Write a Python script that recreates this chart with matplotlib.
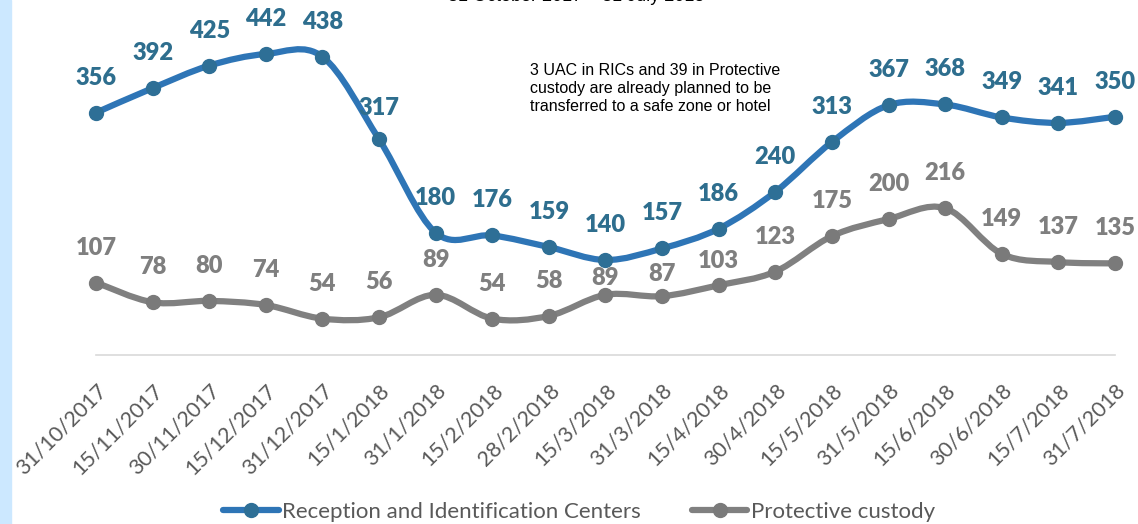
import matplotlib.pyplot as plt
from matplotlib.path import Path
from matplotlib.patches import PathPatch
from matplotlib.lines import Line2D

dates = ["31/10/2017", "15/11/2017", "30/11/2017", "15/12/2017", "31/12/2017",
         "15/1/2018", "31/1/2018", "15/2/2018", "28/2/2018", "15/3/2018",
         "31/3/2018", "15/4/2018", "30/4/2018", "15/5/2018", "31/5/2018",
         "15/6/2018", "30/6/2018", "15/7/2018", "31/7/2018"]
ric = [356, 392, 425, 442, 438, 317, 180, 176, 159, 140, 157, 186, 240, 313,
       367, 368, 349, 341, 350]
custody = [107, 78, 80, 74, 54, 56, 89, 54, 58, 89, 87, 103, 123, 175, 200,
           216, 149, 137, 135]

# label offsets above the point (pixels)
ric_off = [35] * len(ric)
ric_off[5] = 31
cus_off = [35] * len(custody)
cus_off[9] = 17
cus_off[10] = 22
cus_off[11] = 24

BLUE, BLUE_M, BLUE_T = "#2e75b6", "#2e6f96", "#2e6e8e"
GRAY, GRAY_M, GRAY_T = "#808080", "#7a7a7a", "#7f7f7f"


def smooth_path(xs, ys):
    # Excel-like smoothed line: cubic Bezier through every point
    pts = list(zip(xs, ys))
    n = len(pts)
    verts = [pts[0]]
    codes = [Path.MOVETO]
    for i in range(n - 1):
        p0 = pts[max(i - 1, 0)]
        p1 = pts[i]
        p2 = pts[i + 1]
        p3 = pts[min(i + 2, n - 1)]
        c1 = (p1[0] + (p2[0] - p0[0]) / 6, p1[1] + (p2[1] - p0[1]) / 6)
        c2 = (p2[0] - (p3[0] - p1[0]) / 6, p2[1] - (p3[1] - p1[1]) / 6)
        verts += [c1, c2, p2]
        codes += [Path.CURVE4] * 3
    return Path(verts, codes)


fig = plt.figure(figsize=(11.38, 5.24), dpi=100)
ax = fig.add_axes([0.08436, 0.3216, 0.8954, 0.6508])

# light blue strip on the left edge
fig.patches.append(plt.Rectangle((0, 0), 11 / 1138, 1, transform=fig.transFigure,
                                 color="#cce8ff", zorder=0))

x = list(range(len(dates)))
for vals, lc, mc, tc, offs in [(ric, BLUE, BLUE_M, BLUE_T, ric_off),
                               (custody, GRAY, GRAY_M, GRAY_T, cus_off)]:
    ax.add_patch(PathPatch(smooth_path(x, vals), fill=False, edgecolor=lc,
                           lw=4.5, capstyle="round", joinstyle="round",
                           clip_on=False, zorder=2))
    ax.plot(x, vals, ls="none", marker="o", ms=10, color=mc, clip_on=False,
            zorder=3)
    for xi, v, o in zip(x, vals, offs):
        ax.annotate(str(v), (xi, v), xytext=(0, o), textcoords="offset pixels",
                    ha="center", va="center", fontsize=17, fontweight="heavy",
                    family="Lato", color=tc)

ax.set_xlim(0, 18)
ax.set_ylim(0, 500)
ax.set_xticks(x)
ax.set_xticklabels(dates, rotation=45, ha="right", rotation_mode="anchor",
                   fontsize=15.5, family="Lato", color="#595959")
ax.tick_params(axis="x", length=0, pad=18)
ax.set_yticks([])
for s in ["top", "left", "right"]:
    ax.spines[s].set_visible(False)
ax.spines["bottom"].set_color("#d9d9d9")
ax.spines["bottom"].set_linewidth(1.2)

fig.text(576 / 1138, 1 - 1 / 524, "31 October 2017 – 31 July 2018",
         ha="center", va="baseline", fontsize=13, family="Liberation Sans")

fig.text(530 / 1138, 1 - 63 / 524,
         "3 UAC in RICs and 39 in Protective\ncustody are already planned to be\n"
         "transferred to a safe zone or hotel",
         ha="left", va="top", fontsize=11.5, family="Liberation Sans",
         linespacing=1.25)

handles = [
    Line2D([], [], color=BLUE, lw=4.5, marker="o", ms=10, mfc=BLUE_M, mec=BLUE_M,
           solid_capstyle="round"),
    Line2D([], [], color=GRAY, lw=4.5, marker="o", ms=10, mfc=GRAY_M, mec=GRAY_M,
           solid_capstyle="round"),
]
fig.legend(handles, ["Reception and Identification Centers", "Protective custody"],
           loc="center", bbox_to_anchor=(579 / 1138, 1 - 512 / 524), ncol=2,
           frameon=False, handlelength=2.5, handletextpad=0.15, columnspacing=2.3,
           prop={"family": "Lato", "size": 16}, labelcolor="#595959")

fig.savefig("out.png", dpi=100)
